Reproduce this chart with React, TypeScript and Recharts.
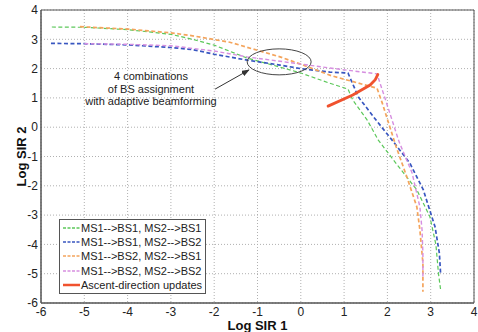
import React from 'react';
import {
  LineChart, Line, XAxis, YAxis, CartesianGrid, Legend, ReferenceArea, ReferenceDot, ReferenceLine,
} from 'recharts';

// tick values for both axes
const X_TICKS = [-6, -5, -4, -3, -2, -1, 0, 1, 2, 3, 4];
const Y_TICKS = [-6, -5, -4, -3, -2, -1, 0, 1, 2, 3, 4];

// [log SIR 1, log SIR 2]
const bs1bs1 = [
  [-5.75, 3.42], [-5.0, 3.41], [-4.0, 3.33], [-3.0, 3.17], [-2.5, 3.0], [-2.0, 2.8], [-1.24, 2.36],
  [-0.5, 2.06], [0.0, 1.85], [0.67, 1.5], [1.09, 1.3], [1.2, 0.93], [1.53, 0.25], [1.79, -0.44],
  [2.14, -1.12], [2.68, -2.14], [2.98, -3.05], [3.12, -4.0], [3.18, -5.0], [3.23, -5.56],
];
const bs1bs2 = [
  [-5.77, 2.86], [-5.0, 2.85], [-4.0, 2.81], [-3.0, 2.72], [-2.5, 2.65], [-2.0, 2.49], [-1.24, 2.29],
  [-0.48, 2.12], [0.0, 2.0], [0.67, 1.88], [1.09, 1.85], [1.33, 1.03], [1.75, 0.22], [2.14, -0.5],
  [2.52, -1.23], [2.83, -2.14], [3.1, -3.4], [3.2, -4.3], [3.23, -5.04],
];
const bs2bs1 = [
  [-5.1, 3.43], [-4.0, 3.35], [-3.0, 3.22], [-2.5, 3.12], [-1.64, 2.9], [-0.48, 2.4], [0.0, 2.15],
  [0.7, 1.76], [1.76, 1.33], [1.88, 0.83], [2.2, -0.66], [2.45, -1.7], [2.68, -2.72], [2.75, -3.5],
  [2.82, -4.64], [2.82, -5.62],
];
const bs2bs2 = [
  [-5.0, 2.85], [-4.0, 2.83], [-3.0, 2.78], [-2.0, 2.6], [-1.24, 2.4], [-0.48, 2.25], [0.67, 2.02],
  [1.76, 1.82], [2.01, 0.69], [2.27, -0.5], [2.57, -1.56], [2.75, -2.72], [2.8, -3.5], [2.82, -4.3],
  [2.82, -5.1],
];
const ascent = [[0.63, 0.72], [1.2, 1.1], [1.6, 1.44], [1.72, 1.62], [1.78, 1.8]];

const toPts = (arr: number[][]) => arr.map(([x, y]) => ({ x, y }));

const SERIES = [
  { name: 'MS1-->BS1, MS2-->BS1', data: bs1bs1, color: '#5cc85a', width: 1.2, dash: '4 2.5' },
  { name: 'MS1-->BS1, MS2-->BS2', data: bs1bs2, color: '#3856c0', width: 1.7, dash: '4 2.5' },
  { name: 'MS1-->BS2, MS2-->BS1', data: bs2bs1, color: '#f4a45c', width: 1.7, dash: '4 2.5' },
  { name: 'MS1-->BS2, MS2-->BS2', data: bs2bs2, color: '#d68ee0', width: 1.4, dash: '4 2.5' },
];
const ASCENT = { name: 'Ascent-direction updates', color: '#f0522e' };

const FONT = 'Arial, "Liberation Sans", Helvetica, sans-serif';

const LegendBox = () => (
  <div style={{ border: '1px solid #555', background: '#fff', padding: '1px 3px 1px 3px', fontFamily: FONT, fontSize: 11, color: '#222' }}>
    {[...SERIES.map((s) => ({ ...s, thick: false })), { ...ASCENT, dash: '', width: 2.5, thick: true }].map((s) => (
      <div key={s.name} style={{ display: 'flex', alignItems: 'center', height: 14.2, lineHeight: '14px' }}>
        <svg width={17} height={6} style={{ marginRight: 1 }}>
          <line x1={0} y1={3} x2={17} y2={3} stroke={s.color} strokeWidth={s.thick ? 2.5 : 1.3} strokeDasharray={s.thick ? undefined : '3 1.5'} />
        </svg>
        <span style={{ whiteSpace: 'nowrap' }}>{s.name}</span>
      </div>
    ))}
  </div>
);

const App: React.FC = () => {
  return (
    <div style={{ position: 'fixed', left: 0, top: 0, width: 478, height: 332, background: '#fff' }}>
      <LineChart width={478} height={332} margin={{ top: 10, right: 4, left: 0, bottom: 0 }}>
        <defs>
          <marker id="arrowHead" markerWidth="8" markerHeight="6" refX="7" refY="3" orient="auto" markerUnits="userSpaceOnUse">
            <path d="M0,0 L8,3 L0,6 Z" fill="#333" />
          </marker>
        </defs>
        <CartesianGrid stroke="#b0b0b0" strokeDasharray="1 2" />
        <XAxis
          type="number"
          dataKey="x"
          domain={[-6, 4]}
          ticks={X_TICKS}
          allowDataOverflow
          height={29}
          tickLine={false}
          tickSize={0}
          tickMargin={4}
          axisLine={{ stroke: '#555' }}
          tick={{ fill: '#222', fontSize: 12, fontFamily: FONT }}
          label={{ value: 'Log SIR 1', position: 'insideBottom', offset: 2, style: { fontWeight: 'bold', fontSize: 13, fontFamily: FONT, fill: '#111' } }}
        />
        <YAxis
          type="number"
          dataKey="y"
          domain={[-6, 4]}
          ticks={Y_TICKS}
          allowDataOverflow
          width={41}
          tickLine={false}
          tickSize={0}
          tickMargin={3}
          axisLine={{ stroke: '#555' }}
          tick={{ fill: '#222', fontSize: 12, fontFamily: FONT }}
          label={{ value: 'Log SIR 2', angle: -90, position: 'insideLeft', offset: 21, style: { textAnchor: 'middle', fontWeight: 'bold', fontSize: 13, fontFamily: FONT, fill: '#111' } }}
        />
        {/* matlab style box around the axes */}
        <ReferenceArea x1={-6} x2={4} y1={-6} y2={4} fill="none" stroke="#555" strokeWidth={1} ifOverflow="visible" />
        {SERIES.map((s) => (
          <Line
            key={s.name}
            data={toPts(s.data)}
            dataKey="y"
            name={s.name}
            stroke={s.color}
            strokeWidth={s.width}
            strokeDasharray={s.dash}
            dot={false}
            activeDot={false}
            isAnimationActive={false}
          />
        ))}
        <Line
          data={toPts(ascent)}
          dataKey="y"
          name={ASCENT.name}
          stroke={ASCENT.color}
          strokeWidth={2.8}
          strokeLinecap="round"
          dot={false}
          activeDot={false}
          isAnimationActive={false}
        />
        {/* annotation: ellipse, arrow and text */}
        <ReferenceDot
          x={-0.5}
          y={2.23}
          ifOverflow="visible"
          shape={(p: any) => <ellipse cx={p.cx} cy={p.cy} rx={32} ry={13} fill="none" stroke="#444" strokeWidth={1} />}
        />
        <ReferenceLine
          segment={[{ x: -1.98, y: 1.3 }, { x: -1.2, y: 1.95 }]}
          ifOverflow="visible"
          shape={(p: any) => <line x1={p.x1} y1={p.y1} x2={p.x2} y2={p.y2} stroke="#333" strokeWidth={1} markerEnd="url(#arrowHead)" />}
        />
        <ReferenceDot
          x={-3.46}
          y={1.3}
          ifOverflow="visible"
          shape={(p: any) => (
            <text x={p.cx} y={p.cy} textAnchor="middle" fontFamily={FONT} fontSize={11} fill="#222">
              <tspan x={p.cx} dy={-9}>4 combinations</tspan>
              <tspan x={p.cx} dy={12.5}>of BS assignment</tspan>
              <tspan x={p.cx} dy={12.5}>with adaptive beamforming</tspan>
            </text>
          )}
        />
        <Legend
          layout="vertical"
          align="center"
          verticalAlign="middle"
          content={() => <LegendBox />}
          wrapperStyle={{ left: 59, top: 219, width: 'auto' }}
        />
      </LineChart>
    </div>
  );
};

export default App;
